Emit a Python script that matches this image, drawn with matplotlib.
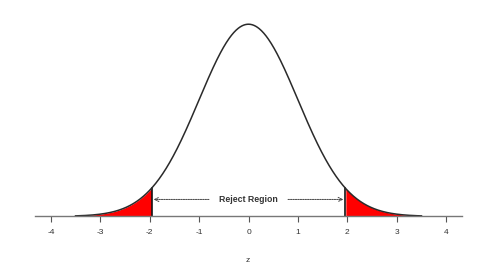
import numpy as np
import matplotlib
matplotlib.use("Agg")
import matplotlib.pyplot as plt

# standard normal density, curve drawn between -3.5 and 3.5
z_min, z_max = -3.5, 3.5
z_crit = 1.96
tick_values = [-4, -3, -2, -1, 0, 1, 2, 3, 4]
tick_labels = ["-4", "-3", "-2", "-1", "0", "1", "2", "3", "4"]
label_text = "Reject Region"


def dnorm(x):
    return np.exp(-x ** 2 / 2) / np.sqrt(2 * np.pi)


z = np.linspace(z_min, z_max, 600)
dens = dnorm(z)

fig = plt.figure(figsize=(4.98, 2.66), dpi=100)
ax = fig.add_axes([35 / 498, 1 - 224 / 266, 427 / 498, 208 / 266])

# tails
left = z <= -z_crit
right = z >= z_crit
ax.fill_between(z[left], 0, dens[left], color="#ff0000", lw=0)
ax.fill_between(z[right], 0, dens[right], color="#ff0000", lw=0)
ax.plot([-z_crit, -z_crit], [0, dnorm(z_crit)], color="black", lw=1.1)
ax.plot([z_crit, z_crit], [0, dnorm(z_crit)], color="black", lw=1.1)

ax.plot(z, dens, color="#2a2a2a", lw=1.1)

# arrows + label
y_arr = 0.035
arr = dict(arrowstyle="->,head_length=0.3,head_width=0.15", color="#444444", lw=0.7,
           linestyle=(0, (1.5, 1)), shrinkA=0, shrinkB=0)
ax.annotate("", xy=(-1.92, y_arr), xytext=(-0.8, y_arr), arrowprops=arr)
ax.annotate("", xy=(1.92, y_arr), xytext=(0.8, y_arr), arrowprops=arr)
ax.text(0, y_arr, label_text, ha="center", va="center", fontsize=6.3,
        fontweight="bold", color="#333333", family="Liberation Sans")

ax.set_xlim(-4.32, 4.32)
ax.set_ylim(-0.016, 0.416)

for s in ["top", "right", "left"]:
    ax.spines[s].set_visible(False)
ax.spines["bottom"].set_position(("data", 0))
ax.spines["bottom"].set_color("#777777")
ax.spines["bottom"].set_linewidth(1.0)
ax.set_yticks([])
ax.set_xticks(tick_values)
ax.set_xticklabels(tick_labels, family="Liberation Sans", fontsize=6, color="#333333")
ax.tick_params(axis="x", direction="out", length=4, width=0.8, color="#555555", pad=5.5)

fig.text(247.5 / 498, 1 - 260 / 266, "z", ha="center", va="center",
         fontsize=6, color="#333333", family="Liberation Sans")

fig.savefig("out.png", dpi=100)
